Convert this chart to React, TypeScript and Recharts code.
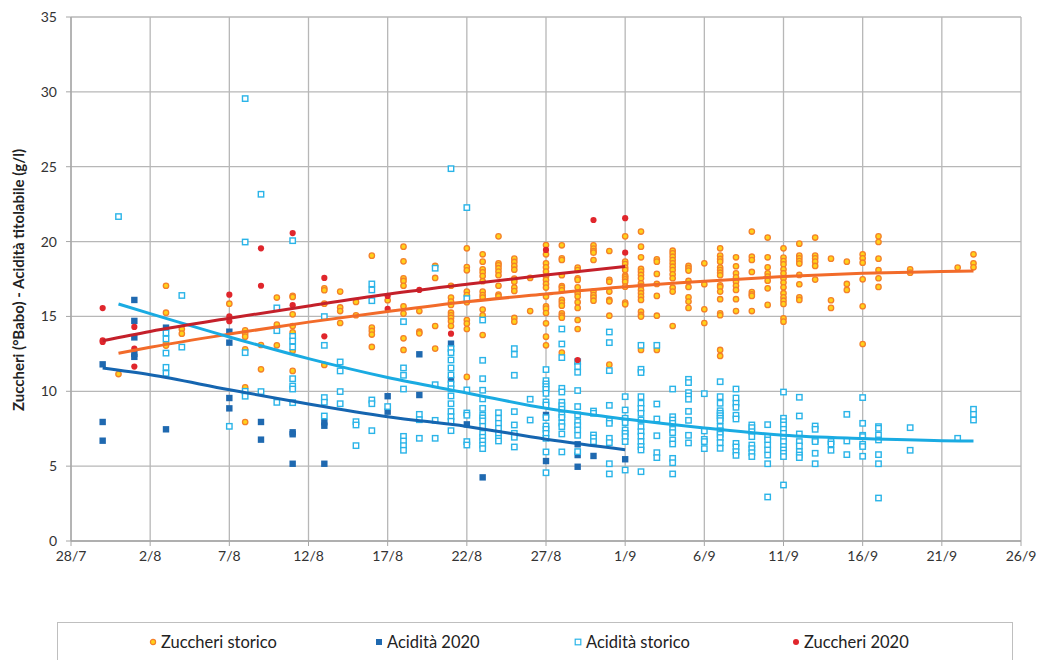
import React from 'react';
import { ScatterChart, Scatter, XAxis, YAxis, CartesianGrid } from 'recharts';

// days counted from 28/7
const xTicks = [0, 5, 10, 15, 20, 25, 30, 35, 40, 45, 50, 55, 60];
const yTicks = [0, 5, 10, 15, 20, 25, 30, 35];

const zuccheriStorico: [number, number[]][] = [
  [3, [11.15]],
  [6, [17.05, 15.25, 13.2, 13.05]],
  [7, [14.16, 13.85]],
  [10, [15.85]],
  [11, [14.07, 13.85, 13.65, 12.8, 10.27, 7.95]],
  [12, [13.09, 11.47]],
  [13, [16.26, 14.45, 13.07]],
  [14, [16.37, 16.3, 15.14, 14.36, 13.94, 12.71, 11.36]],
  [16, [16.88, 16.75, 15.85, 11.76]],
  [17, [16.66, 15.6, 15.36, 14.56]],
  [18, [15.97, 15.08]],
  [19, [19.06, 14.25, 14.03, 13.79, 12.96]],
  [20, [16.08]],
  [21, [19.66, 18.68, 17.55, 17.37, 17.05, 15.68, 15.19, 13.54, 12.76]],
  [22, [15.36, 13.98, 13.87]],
  [23, [18.37, 17.57, 14.36, 12.85]],
  [24, [17.05, 16.26, 15.99, 15.77, 15.25, 15.07, 14.9, 14.68, 14.36]],
  [25, [19.55, 18.3, 18.08, 16.66, 16.43, 15.95, 14.76, 14.52, 14.16, 10.96]],
  [26, [19.15, 18.66, 18.15, 17.95, 17.7, 17.35, 16.66, 16.43, 16.26, 15.46, 15.08, 13.76]],
  [27, [20.35, 18.55, 18.42, 18.22, 18.0, 17.75, 17.05, 16.46, 16.35]],
  [28, [18.86, 18.64, 18.37, 18.12, 17.52, 17.32, 16.93, 16.7, 14.9, 14.65]],
  [29, [17.57, 15.36]],
  [30, [19.77, 19.15, 18.55, 18.28, 18.0, 17.66, 17.44, 17.17, 16.93, 16.33, 15.68, 15.52, 15.23, 14.54, 13.65, 13.07]],
  [31, [19.75, 18.88, 18.77, 17.75, 17.03, 16.92, 16.75, 16.1, 15.92, 15.72, 15.21, 15.05, 14.92, 12.58]],
  [32, [18.26, 18.1, 17.55, 17.44, 16.95, 16.55, 16.33, 15.95, 15.57, 14.76, 14.16, 11.87]],
  [33, [19.75, 19.53, 19.37, 19.26, 18.77, 16.66, 16.43, 16.26, 16.05]],
  [34, [19.37, 17.44, 17.32, 16.66, 16.1, 16.01, 15.05, 11.78]],
  [35, [20.35, 18.66, 18.5, 18.26, 18.1, 17.72, 17.61, 17.48, 17.32, 16.99, 15.92, 15.81]],
  [36, [20.67, 19.66, 18.95, 18.17, 17.99, 17.77, 17.55, 17.21, 17.03, 16.77, 16.55, 16.32, 16.1, 15.32, 15.1, 14.99, 12.76]],
  [37, [18.82, 18.66, 17.84, 17.17, 16.37, 15.05, 12.76]],
  [38, [19.39, 19.21, 18.99, 18.77, 18.55, 18.32, 18.1, 17.81, 17.55, 16.92, 16.66, 14.36]],
  [39, [18.37, 18.22, 18.06, 17.37, 16.97, 16.28, 15.99, 15.57]],
  [40, [18.55, 17.15, 15.48, 14.56]],
  [41, [19.55, 19.06, 18.84, 18.66, 18.26, 18.1, 17.92, 17.75, 17.08, 16.97, 16.66, 16.15, 15.21, 15.08, 12.76, 12.36]],
  [42, [18.95, 18.35, 17.88, 17.61, 17.32, 17.05, 16.77, 16.15, 15.36]],
  [43, [20.67, 18.99, 18.77, 17.97, 16.63, 16.48, 16.37, 15.36]],
  [44, [20.27, 18.95, 18.28, 17.88, 17.66, 17.39, 16.88, 15.77]],
  [45, [19.55, 18.93, 18.7, 18.48, 18.15, 17.88, 17.55, 17.26, 16.95, 16.55, 16.28, 16.05, 15.83, 14.88, 14.65]],
  [46, [19.86, 19.06, 18.88, 18.7, 18.53, 17.77, 17.15, 16.28, 16.1]],
  [47, [20.27, 19.06, 18.88, 18.66, 18.37, 17.46]],
  [48, [18.86, 16.08, 15.57]],
  [49, [18.66, 17.17, 16.77]],
  [50, [19.15, 18.88, 18.59, 17.48, 15.68, 13.16]],
  [51, [20.35, 19.97, 18.86, 18.1, 17.55, 16.97]],
  [53, [18.15, 17.92]],
  [56, [18.26]],
  [57, [19.15, 18.55, 18.28]],
];

const acidita2020: [number, number[]][] = [
  [2, [11.8, 7.95, 6.7]],
  [4, [16.1, 14.7, 13.6, 12.5, 12.3]],
  [6, [14.25, 7.46]],
  [10, [13.98, 13.25, 9.55, 8.86]],
  [12, [7.95, 6.77]],
  [14, [7.26, 7.13, 5.16]],
  [16, [7.93, 7.7, 5.16]],
  [20, [9.67, 8.64]],
  [22, [12.47, 9.75]],
  [24, [13.18, 10.78]],
  [25, [7.79]],
  [26, [4.25]],
  [30, [8.42, 5.34]],
  [32, [6.46, 5.74, 4.96]],
  [33, [5.68]],
  [35, [5.46]],
];

const aciditaStorico: [number, number[]][] = [
  [3, [21.67]],
  [6, [13.9, 13.5, 12.55, 11.6, 11.2]],
  [7, [16.4, 12.95]],
  [10, [7.66]],
  [11, [29.55, 19.97, 12.58, 10.0, 9.67]],
  [12, [23.16, 9.98]],
  [13, [15.57, 14.05, 9.26]],
  [14, [20.06, 13.67, 13.36, 12.96, 10.84, 10.35, 10.15, 9.24]],
  [16, [14.99, 13.07, 9.58, 9.27, 8.35]],
  [17, [11.96, 11.36, 9.98, 9.17]],
  [18, [7.97, 7.75, 6.37]],
  [19, [17.17, 16.77, 16.05, 9.42, 9.17, 7.37]],
  [20, [8.98]],
  [21, [14.65, 11.56, 11.07, 10.15, 6.99, 6.68, 6.37, 6.06]],
  [22, [8.46, 8.1, 6.86]],
  [23, [18.22, 10.44, 8.06, 6.86]],
  [24, [24.87, 12.85, 12.58, 12.09, 11.56, 11.09, 10.49, 10.17, 9.69, 9.17, 8.66, 8.3, 8.0, 7.37]],
  [25, [22.27, 16.19, 10.09, 8.55, 8.4, 6.64, 6.41]],
  [26, [14.76, 12.07, 10.84, 10.07, 9.49, 8.86, 8.4, 8.22, 8.02, 7.66, 7.19, 6.93, 6.68, 6.41, 6.17]],
  [27, [8.57, 8.2, 7.86, 7.53, 7.19, 6.86, 6.68]],
  [28, [12.85, 12.47, 11.07, 8.64, 7.75, 7.19, 6.93, 6.28]],
  [29, [9.47, 8.08]],
  [30, [11.45, 10.71, 10.49, 10.31, 10.13, 9.86, 9.29, 9.08, 8.24, 7.68, 7.46, 7.19, 6.86, 5.95, 4.56]],
  [31, [14.16, 13.16, 12.25, 10.2, 9.95, 9.27, 9.04, 8.8, 8.44, 8.26, 7.88, 7.64, 7.15, 5.95]],
  [32, [11.98, 11.65, 11.27, 10.05, 8.98, 8.42, 7.97, 7.71, 7.42, 7.06, 5.97]],
  [33, [8.68, 8.53, 7.08, 6.88, 6.64]],
  [34, [13.96, 13.25, 11.38, 9.06, 8.04, 7.86, 6.86, 6.57, 5.16, 4.48]],
  [35, [9.64, 8.75, 8.2, 7.91, 7.42, 7.19, 6.97, 6.64, 4.74]],
  [36, [13.07, 11.47, 11.25, 9.64, 9.2, 8.86, 8.53, 8.08, 7.64, 7.3, 7.01, 6.64, 6.31, 6.08, 4.63]],
  [37, [13.07, 9.15, 8.15, 7.03, 5.9, 5.57]],
  [38, [10.15, 8.3, 8.08, 7.86, 7.46, 7.24, 6.75, 6.48, 5.52, 5.23, 4.48]],
  [39, [10.8, 10.58, 9.91, 9.69, 9.47, 8.66, 8.06, 7.06, 6.55]],
  [40, [9.84, 7.35, 6.79, 6.64, 6.17]],
  [41, [10.64, 9.64, 9.2, 8.7, 8.53, 8.37, 8.2, 8.04, 7.64, 7.37, 7.13, 6.91, 6.57, 6.19]],
  [42, [10.15, 9.55, 9.2, 8.93, 8.4, 8.15, 6.52, 6.28, 5.97, 5.72]],
  [43, [7.75, 7.57, 7.3, 6.97, 6.41, 6.17, 5.9, 5.64]],
  [44, [7.77, 6.97, 6.75, 6.41, 6.08, 5.74, 5.16, 2.94]],
  [45, [9.95, 8.2, 7.97, 7.75, 7.46, 7.19, 6.86, 6.64, 6.31, 6.08, 5.86, 5.64, 3.74]],
  [46, [9.6, 8.35, 7.15, 6.64, 6.35, 5.97, 5.74, 5.57]],
  [47, [7.68, 7.46, 6.75, 6.64, 5.86, 5.16]],
  [48, [6.64, 6.48, 6.06]],
  [49, [8.46, 6.68, 5.77]],
  [50, [9.58, 7.86, 7.06, 6.97, 6.46, 6.31, 5.66]],
  [51, [7.64, 7.53, 7.08, 6.75, 5.77, 5.16, 2.87]],
  [53, [7.57, 6.06]],
  [56, [6.86]],
  [57, [8.8, 8.46, 8.08]],
];

const zuccheri2020: [number, number[]][] = [
  [2, [15.56, 13.3, 13.4]],
  [4, [14.3, 12.85, 11.65]],
  [10, [16.45, 15.0, 14.68]],
  [12, [19.55, 17.05]],
  [14, [20.57, 15.75]],
  [16, [17.57, 13.67]],
  [20, [16.37, 15.5]],
  [22, [16.77]],
  [24, [13.85]],
  [30, [19.44]],
  [32, [12.09]],
  [33, [21.44]],
  [35, [21.56, 19.26]],
];

// trend lines
const trendZuccheriStorico: [number, number][] = [
  [3, 12.54], [5, 12.94], [10, 13.82], [15, 14.62], [20, 15.33], [25, 15.98], [30, 16.5],
  [35, 16.98], [40, 17.35], [45, 17.66], [50, 17.88], [55, 18.0], [57, 18.04],
];
const trendAcidita2020: [number, number][] = [
  [2, 11.55], [5, 11.1], [10, 10.1], [15, 9.15], [20, 8.3], [25, 7.65], [30, 6.8], [35, 6.1],
];
const trendAciditaStorico: [number, number][] = [
  [3, 15.83], [5, 15.19], [10, 13.63], [15, 12.18], [20, 10.92], [25, 9.89], [30, 8.86],
  [35, 8.15], [40, 7.55], [45, 7.06], [50, 6.84], [55, 6.7], [57, 6.68],
];
const trendZuccheri2020: [number, number][] = [
  [2, 13.38], [5, 14.0], [10, 14.88], [15, 15.7], [20, 16.48], [25, 17.15], [30, 17.77], [35, 18.33],
];

const toPoints = (cols: [number, number[]][]) => cols.flatMap(([d, vs]) => vs.map((v) => ({ d, v })));
const toLine = (pts: [number, number][]) => pts.map(([d, v]) => ({ d, v }));

const fmtDay = (d: number) => {
  const dt = new Date(2020, 6, 28 + d);
  return `${dt.getDate()}/${dt.getMonth() + 1}`;
};

const FONT = 'Lato, "Open Sans", sans-serif';

const OrangeDot = (p: any) => (
  <circle cx={p.cx} cy={p.cy} r={2.7} fill="#FFD21A" stroke="#F4802A" strokeWidth={1.3} />
);
const RedDot = (p: any) => <circle cx={p.cx} cy={p.cy} r={3.1} fill="#E0262C" />;
const DarkSquare = (p: any) => <rect x={p.cx - 3.2} y={p.cy - 3.2} width={6.4} height={6.4} fill="#1F69B0" />;
const LightSquare = (p: any) => (
  <rect x={p.cx - 2.7} y={p.cy - 2.7} width={5.4} height={5.4} fill="#fff" stroke="#2AB4E8" strokeWidth={1.4} />
);
const NoShape = () => <g />;

const LegendItem = ({ x, label, marker }: { x: number; label: string; marker: React.ReactNode }) => (
  <div style={{ position: 'absolute', left: x, top: 0, height: 38, display: 'flex', alignItems: 'center' }}>
    <svg width={10} height={10} style={{ marginRight: 3 }}>
      {marker}
    </svg>
    <span style={{ fontSize: 16.5, color: '#222' }}>{label}</span>
  </div>
);

export default function App() {
  return (
    <div style={{ position: 'absolute', left: 0, top: 0, width: 1040, height: 660, background: '#fff', fontFamily: FONT, overflow: 'hidden' }}>
      <ScatterChart width={1040} height={660} margin={{ top: 17, right: 19, bottom: 0, left: 0 }}>
        <CartesianGrid stroke="#B7B7B7" strokeWidth={1.3} />
        <XAxis
          type="number"
          dataKey="d"
          domain={[0, 60]}
          ticks={xTicks}
          tickFormatter={fmtDay}
          height={119}
          tickSize={5}
          tickMargin={5}
          axisLine={{ stroke: '#A6A6A6', strokeWidth: 1.3 }}
          tickLine={{ stroke: '#A6A6A6' }}
          tick={{ fill: '#333', fontSize: 14, fontFamily: FONT }}
          interval={0}
        />
        <YAxis
          type="number"
          dataKey="v"
          domain={[0, 35]}
          ticks={yTicks}
          width={71}
          tickSize={5}
          tickMargin={9}
          axisLine={{ stroke: '#A6A6A6', strokeWidth: 1.3 }}
          tickLine={{ stroke: '#A6A6A6' }}
          tick={{ fill: '#333', fontSize: 14, fontFamily: FONT }}
          interval={0}
        />
        <Scatter data={toPoints(zuccheriStorico)} shape={OrangeDot} isAnimationActive={false} />
        <Scatter data={toPoints(acidita2020)} shape={DarkSquare} isAnimationActive={false} />
        <Scatter data={toPoints(aciditaStorico)} shape={LightSquare} isAnimationActive={false} />
        <Scatter data={toPoints(zuccheri2020)} shape={RedDot} isAnimationActive={false} />
        <Scatter data={toLine(trendZuccheriStorico)} shape={NoShape} line={{ stroke: '#F26B2A', strokeWidth: 3 }} lineJointType="monotoneX" isAnimationActive={false} />
        <Scatter data={toLine(trendAcidita2020)} shape={NoShape} line={{ stroke: '#1565B0', strokeWidth: 3 }} lineJointType="monotoneX" isAnimationActive={false} />
        <Scatter data={toLine(trendAciditaStorico)} shape={NoShape} line={{ stroke: '#1AABE2', strokeWidth: 3 }} lineJointType="monotoneX" isAnimationActive={false} />
        <Scatter data={toLine(trendZuccheri2020)} shape={NoShape} line={{ stroke: '#C4202A', strokeWidth: 3 }} lineJointType="monotoneX" isAnimationActive={false} />
      </ScatterChart>

      <div
        style={{
          position: 'absolute',
          left: 18,
          top: 280,
          transform: 'translate(-50%, -50%) rotate(-90deg)',
          whiteSpace: 'nowrap',
          fontSize: 15,
          fontWeight: 700,
          color: '#222',
        }}
      >
        Zuccheri (°Babo) - Acidità titolabile (g/l)
      </div>

      <div style={{ position: 'absolute', left: 57, top: 622, width: 956, height: 60, border: '1px solid #BFBFBF', boxSizing: 'border-box' }}>
        <LegendItem x={90} label="Zuccheri storico" marker={<circle cx={5} cy={5} r={2.6} fill="#FFD21A" stroke="#F4802A" strokeWidth={1.2} />} />
        <LegendItem x={316} label="Acidità 2020" marker={<rect x={2} y={2} width={6} height={6} fill="#1F69B0" />} />
        <LegendItem x={515} label="Acidità storico" marker={<rect x={2.2} y={2.2} width={5.6} height={5.6} fill="#fff" stroke="#2AB4E8" strokeWidth={1.2} />} />
        <LegendItem x={733} label="Zuccheri 2020" marker={<circle cx={5} cy={5} r={3} fill="#E0262C" />} />
      </div>
    </div>
  );
}
